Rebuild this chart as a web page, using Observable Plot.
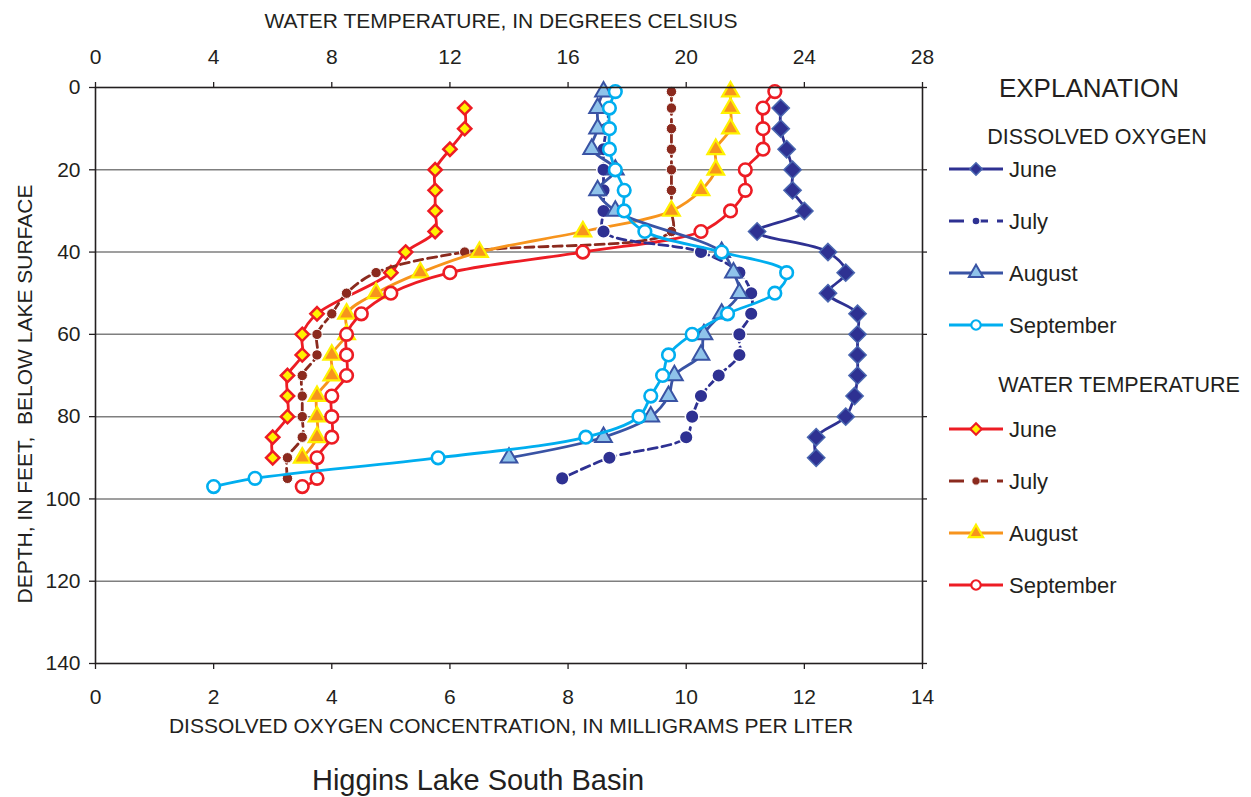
<!DOCTYPE html>
<html><head><meta charset="utf-8">
<script src="https://cdn.jsdelivr.net/npm/d3@7"></script>
<script src="https://cdn.jsdelivr.net/npm/@observablehq/plot@0.6"></script>
<style>
body{margin:0;background:#fff;}
#chart{width:1251px;height:797px;}
svg text{font-family:"Liberation Sans",Arial,sans-serif;}
</style></head><body><div id="chart"></div>
<script>
// ---- tick labels ----
const doTicks = [0, 2, 4, 6, 8, 10, 12, 14];
const tempTicks = [0, 4, 8, 12, 16, 20, 24, 28];
const depthTicks = [0, 20, 40, 60, 80, 100, 120, 140];
const gridDepths = [20, 40, 60, 80, 100, 120];
const months = ["June", "July", "August", "September"];

// ---- dissolved oxygen (mg/L) ----
const doJuneDepth = [5,10,15,20,25,30,35,40,45,50,55,60,65,70,75,80,85,90];
const doJune      = [11.6,11.6,11.7,11.8,11.8,12.0,11.2,12.4,12.7,12.4,12.9,12.9,12.9,12.9,12.85,12.7,12.2,12.2];
const doJulyDepth = [5,10,15,20,25,30,35,40,45,50,55,60,65,70,75,80,85,90,95];
const doJuly      = [8.7,8.65,8.6,8.6,8.6,8.6,8.6,10.25,10.9,11.1,11.1,10.9,10.9,10.55,10.25,10.1,10.0,8.7,7.9];
const doAugDepth  = [1,5,10,15,20,25,30,40,45,50,55,60,65,70,75,80,85,90];
const doAug       = [8.6,8.5,8.5,8.4,8.8,8.5,8.8,10.6,10.8,10.9,10.6,10.3,10.25,9.8,9.7,9.4,8.6,7.0];
const doSepDepth  = [1,5,10,15,20,25,30,35,40,45,50,55,60,65,70,75,80,85,90,95,97];
const doSep       = [8.8,8.7,8.7,8.7,8.8,8.95,8.95,9.3,10.6,11.7,11.5,10.7,10.1,9.7,9.6,9.4,9.2,8.3,5.8,2.7,2.0];

// ---- water temperature (deg C) ----
const tJuneDepth = [5,10,15,20,25,30,35,40,45,55,60,65,70,75,80,85,90];
const tJune      = [12.5,12.5,12,11.5,11.5,11.5,11.5,10.5,10,7.5,7,7,6.5,6.5,6.5,6,6];
const tJulyDepth = [1,5,10,15,20,25,30,35,40,45,50,55,60,65,70,75,80,85,90,95];
const tJuly      = [19.5,19.5,19.5,19.5,19.5,19.5,19.5,19.5,12.5,9.5,8.5,8,7.5,7.5,7,7,7,7,6.5,6.5];
const tAugDepth  = [1,5,10,15,20,25,30,35,40,45,50,55,60,65,70,75,80,85,90];
const tAug       = [21.5,21.5,21.5,21,21,20.5,19.5,16.5,13,11,9.5,8.5,8.5,8,8,7.5,7.5,7.5,7];
const tSepDepth  = [1,5,10,15,20,25,30,35,40,45,50,55,60,65,70,75,80,85,90,95,97];
const tSep       = [23,22.6,22.6,22.6,22,22,21.5,20.5,16.5,12,10,9,8.5,8.5,8.5,8,8,8,7.5,7.5,7];

// temperature shares the x scale: 28 degC at top <-> 14 mg/L at bottom
const TEMP_PER_DO = tempTicks[tempTicks.length - 1] / doTicks[doTicks.length - 1];

const rows = (depths, vals) => depths.map((d, i) => ({depth: d, value: vals[i]}));

const doStyles = [
  {data: rows(doJuneDepth, doJune), line: "#2e3192", symbol: "diamond2", r: 7.8, fill: "#2e3192", stroke: "#4a67b0", sw: 1.5, lr: 0.72},
  {data: rows(doJulyDepth, doJuly), line: "#2e3192", dash: "9,5", symbol: "circle", r: 6.8, fill: "#2e3192", stroke: "#ffffff", sw: 1.5, lr: 0.6},
  {data: rows(doAugDepth, doAug), line: "#3953a4", symbol: "triangle", r: 6.2, fill: "#8fc3ea", stroke: "#3953a4", sw: 2, lr: 0.85},
  {data: rows(doSepDepth, doSep), line: "#00aeef", symbol: "circle", r: 6.3, fill: "#ffffff", stroke: "#00aeef", sw: 2.6, lr: 0.75}
];
const tStyles = [
  {data: rows(tJuneDepth, tJune), line: "#ed1c24", symbol: "diamond2", r: 6.0, fill: "#fff200", stroke: "#ed1c24", sw: 2.5, lr: 0.85},
  {data: rows(tJulyDepth, tJuly), line: "#8b2a1e", dash: "9,5", symbol: "circle", r: 5.2, fill: "#8b2a1e", stroke: "#ffffff", sw: 1, lr: 0.8},
  {data: rows(tAugDepth, tAug), line: "#f7941d", symbol: "triangle", r: 6.2, fill: "#f7941d", stroke: "#fff200", sw: 2.2, lr: 0.85},
  {data: rows(tSepDepth, tSep), line: "#ed1c24", symbol: "circle", r: 6.3, fill: "#ffffff", stroke: "#ed1c24", sw: 2.6, lr: 0.75}
];

function seriesMarks(s, xf) {
  return [
    Plot.line(s.data, {x: xf, y: "depth", stroke: s.line, strokeWidth: 2.8, curve: "catmull-rom", strokeDasharray: s.dash || null}),
    Plot.dot(s.data, {x: xf, y: "depth", symbol: s.symbol, r: s.r, fill: s.fill, stroke: s.stroke, strokeWidth: s.sw})
  ];
}

const ink = "#231f20";
const plot = Plot.plot({
  width: 1251, height: 797,
  marginLeft: 95, marginRight: 329, marginTop: 87, marginBottom: 134,
  style: {fontFamily: "Liberation Sans, Arial, sans-serif", fontSize: "21px", color: ink, background: "#fff", overflow: "visible"},
  x: {domain: [0, 14]},
  y: {domain: [0, 140], reverse: true},
  marks: [
    Plot.ruleY(gridDepths, {stroke: "#7f7f7f", strokeWidth: 1.5}),
    ...tStyles.flatMap(s => seriesMarks(s, d => d.value / TEMP_PER_DO)),
    ...doStyles.flatMap(s => seriesMarks(s, "value")),
    Plot.frame({stroke: ink, strokeWidth: 1.6}),
    Plot.axisX({anchor: "bottom", ticks: doTicks, tickSize: 6, tickPadding: 20, label: null, fontSize: 21, strokeWidth: 1.3}),
    Plot.axisX({anchor: "top", ticks: doTicks, tickFormat: (d, i) => String(tempTicks[i]), tickSize: 6, tickPadding: 18, label: null, fontSize: 21, strokeWidth: 1.3}),
    Plot.axisY({anchor: "left", ticks: depthTicks, tickSize: 6, tickPadding: 9, label: null, fontSize: 21, strokeWidth: 1.3}),
    Plot.axisY({anchor: "right", ticks: depthTicks, tickSize: 4, tickFormat: () => "", label: null, strokeWidth: 1.3})
  ]
});

document.getElementById("chart").appendChild(plot);

// ---- titles & legend ----
const svg = d3.select(plot);
const g = svg.append("g").attr("fill", ink).attr("font-family", "Liberation Sans, Arial, sans-serif");
const txt = (x, y, s, size, anchor = "middle") =>
  g.append("text").attr("x", x).attr("y", y).attr("font-size", size).attr("text-anchor", anchor).style("white-space", "pre").text(s);

txt(501, 28, "WATER TEMPERATURE, IN DEGREES CELSIUS", 21);
txt(511, 733, "DISSOLVED OXYGEN CONCENTRATION, IN MILLIGRAMS PER LITER", 21);
txt(478, 790, "Higgins Lake South Basin", 29);
g.append("text").attr("transform", "translate(32,394) rotate(-90)").attr("font-size", 21)
  .attr("text-anchor", "middle").style("white-space", "pre").text("DEPTH, IN FEET,  BELOW LAKE SURFACE");

txt(1089, 97, "EXPLANATION", 26);
txt(1097, 144, "DISSOLVED OXYGEN", 21.5);
txt(1119, 392, "WATER TEMPERATURE", 21.5);

const symMap = {diamond2: d3.symbolDiamond2, circle: d3.symbolCircle, triangle: d3.symbolTriangle};
function legendBlock(styles, ys) {
  styles.forEach((s, i) => {
    const y = ys[i];
    const lg = g.append("g");
    lg.append("line").attr("x1", 949).attr("x2", 1003).attr("y1", y).attr("y2", y)
      .attr("stroke", s.line).attr("stroke-width", 3).attr("stroke-dasharray", s.dash ? "15,9" : null);
    const r = s.r * s.lr;
    lg.append("path").attr("transform", `translate(976,${y})`)
      .attr("d", d3.symbol(symMap[s.symbol], Math.PI * r * r)())
      .attr("fill", s.fill).attr("stroke", s.stroke).attr("stroke-width", Math.min(s.sw, 2.2));
    txt(1009, y + 8, months[i], 22, "start");
  });
}
legendBlock(doStyles, [169, 221, 273, 325]);
legendBlock(tStyles, [429, 481, 533, 585]);
</script></body></html>
